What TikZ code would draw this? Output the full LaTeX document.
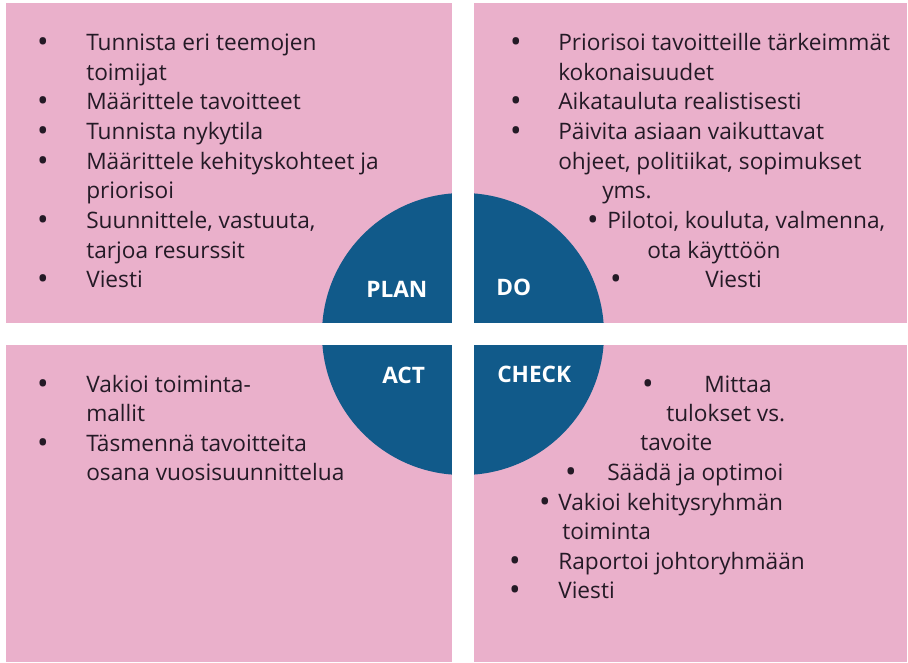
\documentclass[tikz,border=0pt]{standalone}
\usepackage{fontspec}
\setmainfont{Open Sans}
\definecolor{pinkbg}{HTML}{EAB0CB}
\definecolor{pdcablue}{HTML}{115A8A}
\definecolor{txt}{HTML}{241A26}
\tikzset{
  quad/.style={fill=pinkbg, draw=none},
  gap/.style={fill=white, draw=none},
  ln/.style={anchor=base west, inner sep=0pt, text=txt, font=\fontsize{17}{20}\selectfont},
  bul/.style={anchor=base, inner sep=0pt, text=txt, font=\fontsize{23}{26}\selectfont, yshift=-2.2pt},
  lbl/.style={anchor=base west, inner sep=0pt, text=white, font=\fontsize{17}{20}\selectfont\bfseries}
}
\begin{document}
\begin{tikzpicture}[x=0.75pt,y=-0.75pt]
\useasboundingbox (0,0) rectangle (908,662);
\fill[white] (0,0) rectangle (908,662);
% quadrants
\fill[quad] (6,3) rectangle (474,345);
\fill[quad] (452,3) rectangle (907,345);
\fill[quad] (6,323) rectangle (474,662);
\fill[quad] (452,323) rectangle (907,662);
% circle
\fill[pdcablue] (463,334) circle[radius=105.75pt];
% white gaps
\fill[gap] (452,0) rectangle (474,662);
\fill[gap] (0,323) rectangle (908,345);
% labels
\node[lbl] (plan) at (366,297) {PLAN};
\node[lbl] (do) at (496,295) {DO};
\node[lbl] (act) at (382,383) {ACT};
\node[lbl] (check) at (497,382) {CHECK};
% PLAN text
\node[bul] (pb1) at (43,50) {•};
\node[ln] (p1) at (86,50) {Tunnista eri teemojen};
\node[ln] (p2) at (86,80) {toimijat};
\node[bul] (pb2) at (43,109) {•};
\node[ln] (p3) at (86,109) {Määrittele tavoitteet};
\node[bul] (pb3) at (43,139) {•};
\node[ln] (p4) at (86,139) {Tunnista nykytila};
\node[bul] (pb4) at (43,169) {•};
\node[ln] (p5) at (86,169) {Määrittele kehityskohteet ja};
\node[ln] (p6) at (86,198) {priorisoi};
\node[bul] (pb5) at (43,228) {•};
\node[ln] (p7) at (86,228) {Suunnittele, vastuuta,};
\node[ln] (p8) at (86,258) {tarjoa resurssit};
\node[bul] (pb6) at (43,287) {•};
\node[ln] (p9) at (86,287) {Viesti};
% DO text
\node[bul] (db1) at (516,50) {•};
\node[ln] (d1) at (558,50) {Priorisoi tavoitteille tärkeimmät};
\node[ln] (d2) at (558,80) {kokonaisuudet};
\node[bul] (db2) at (516,109) {•};
\node[ln] (d3) at (558,109) {Aikatauluta realistisesti};
\node[bul] (db3) at (516,139) {•};
\node[ln] (d4) at (558,139) {Päivita asiaan vaikuttavat};
\node[ln] (d5) at (558,169) {ohjeet, politiikat, sopimukset};
\node[ln] (d6) at (602,198) {yms.};
\node[bul] (db4) at (593,228) {•};
\node[ln] (d7) at (607,228) {Pilotoi, kouluta, valmenna,};
\node[ln] (d8) at (647,258) {ota käyttöön};
\node[bul] (db5) at (616,287) {•};
\node[ln] (d9) at (705,287) {Viesti};
% CHECK text
\node[bul] (cb1) at (648,392) {•};
\node[ln] (c1) at (704,392) {Mittaa};
\node[ln] (c2) at (666,421) {tulokset vs.};
\node[ln] (c3) at (640,450) {tavoite};
\node[bul] (cb2) at (571,480) {•};
\node[ln] (c4) at (607,480) {Säädä ja optimoi};
\node[bul] (cb3) at (545,510) {•};
\node[ln] (c5) at (558,510) {Vakioi kehitysryhmän};
\node[ln] (c6) at (562,539) {toiminta};
\node[bul] (cb4) at (515,569) {•};
\node[ln] (c7) at (558,569) {Raportoi johtoryhmään};
\node[bul] (cb5) at (515,598) {•};
\node[ln] (c8) at (558,598) {Viesti};
% ACT text
\node[bul] (ab1) at (43,392) {•};
\node[ln] (a1) at (86,392) {Vakioi toiminta-};
\node[ln] (a2) at (86,421) {mallit};
\node[bul] (ab2) at (43,451) {•};
\node[ln] (a3) at (86,451) {Täsmennä tavoitteita};
\node[ln] (a4) at (86,480) {osana vuosisuunnittelua};
\end{tikzpicture}
\end{document}
